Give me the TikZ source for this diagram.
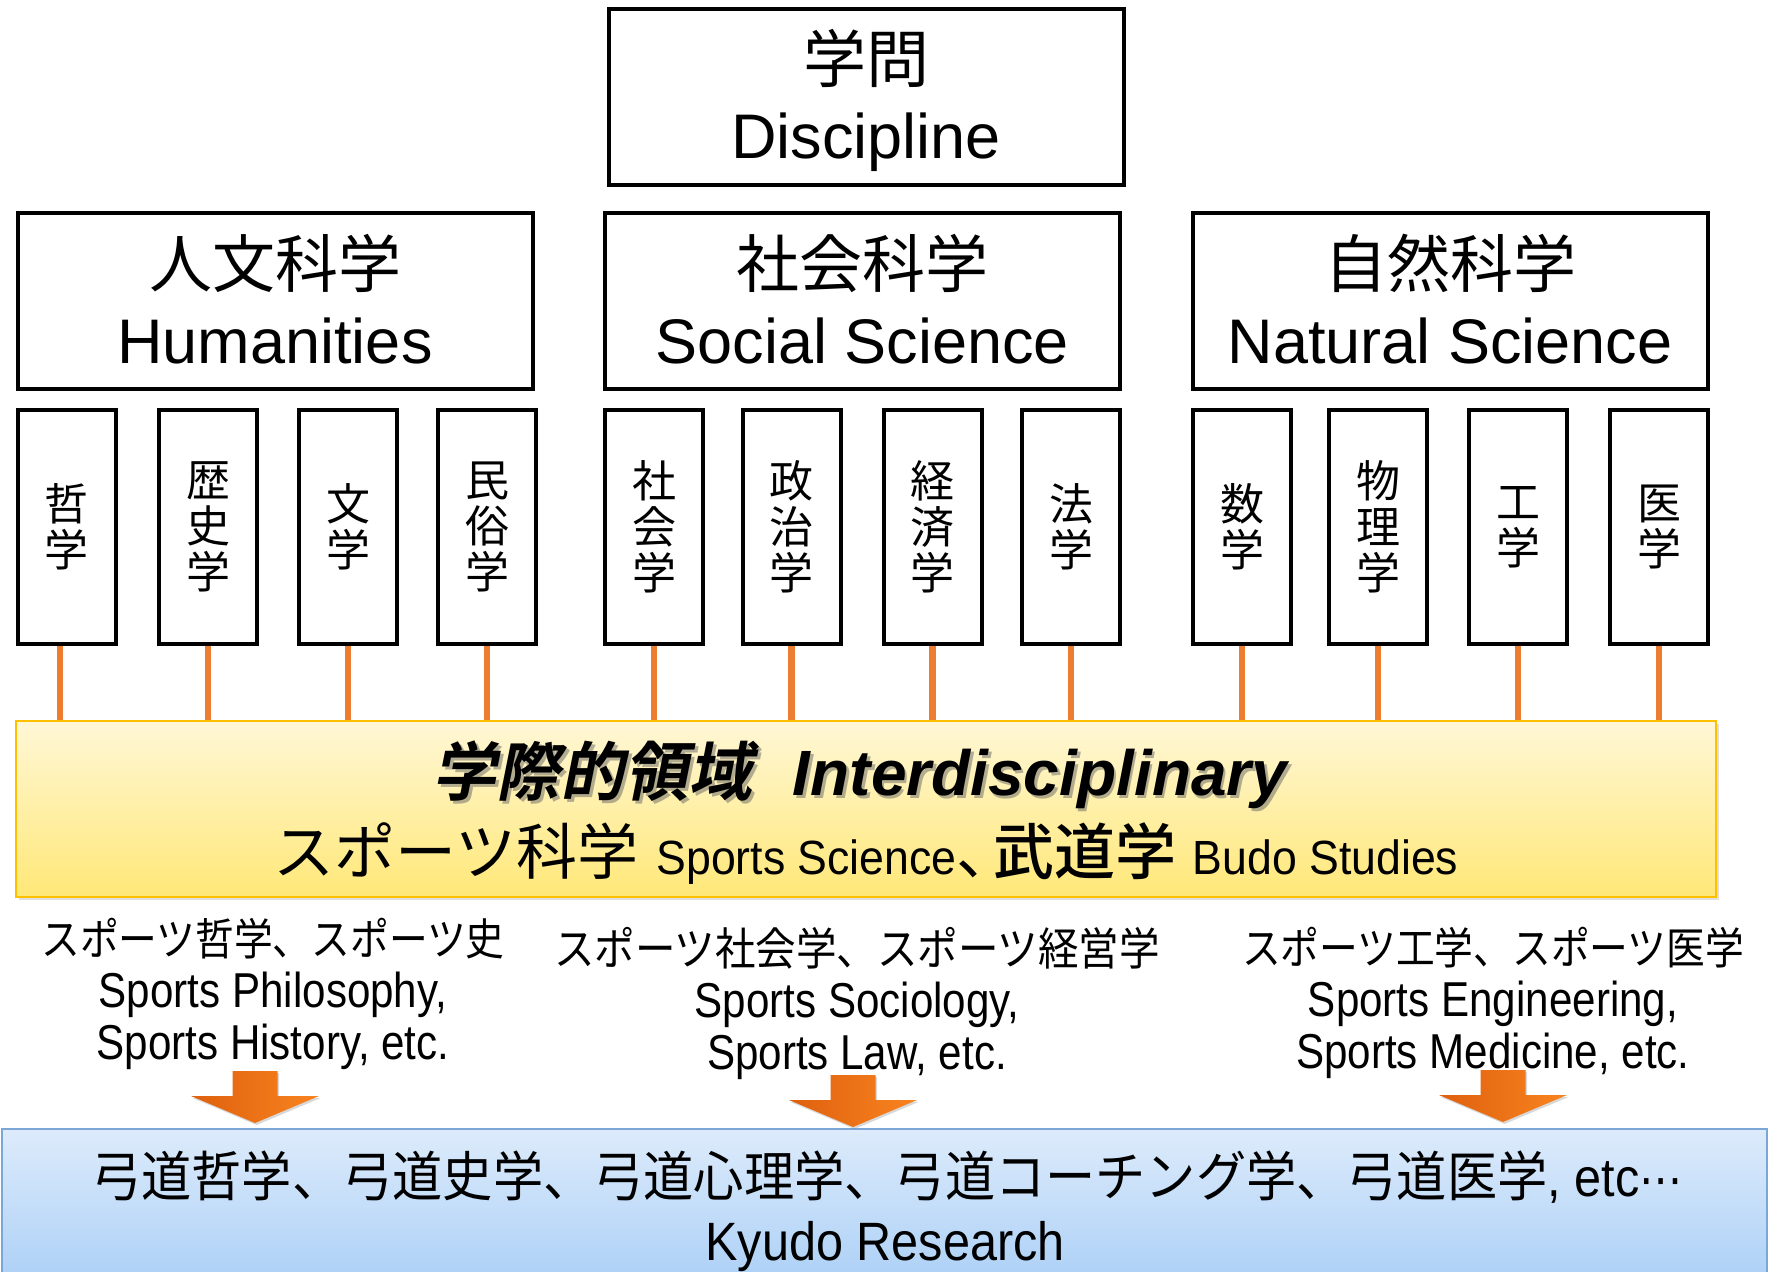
\documentclass[tikz,border=0pt]{standalone}
\usepackage{fontspec}
\setmainfont{Liberation Sans}
\newfontfamily\jp{Noto Sans CJK JP}
\newfontfamily\jpm{Noto Sans CJK JP Medium}
\newfontfamily\jpn[FakeStretch=0.88]{Noto Sans CJK JP}
\newfontfamily\jpnw[FakeStretch=0.9]{Noto Sans CJK JP}
\newfontfamily\jpbl[FakeStretch=0.93]{Noto Sans CJK JP}
\newfontfamily\jpbi[FakeSlant=0.2]{Noto Sans CJK JP Bold}
\newfontfamily\latn[FakeStretch=0.86]{Liberation Sans}
\newfontfamily\latbl[FakeStretch=0.9]{Liberation Sans}
\newfontfamily\latyl[FakeStretch=0.93]{Liberation Sans}
\newfontfamily\djv[FakeStretch=0.9]{DejaVu Sans}
\usetikzlibrary{shadows}
\definecolor{lineor}{HTML}{ED7D31}
\definecolor{yelT}{HTML}{FFF7D6}
\definecolor{yelB}{HTML}{FFE878}
\definecolor{yelD}{HTML}{FFC000}
\definecolor{bluT}{HTML}{DDEBFB}
\definecolor{bluB}{HTML}{A6CDF6}
\definecolor{bluD}{HTML}{7AA6D8}
\definecolor{arrL}{HTML}{DF600E}
\definecolor{arrR}{HTML}{F8841F}
\begin{document}
\begin{tikzpicture}[x=0.5pt,y=-0.5pt,
  hdr/.style={draw=black, line width=2pt, rectangle, minimum width=257.5pt, minimum height=88pt, inner sep=0pt},
  hdrtext/.style={align=center, inner sep=0pt, font=\fontsize{31.5}{38}\selectfont},
  subbox/.style={draw=black, line width=2pt, rectangle, minimum width=49pt, minimum height=117pt,
    align=center, inner sep=0pt, font=\jp\fontsize{22}{23}\selectfont},
  conn/.style={draw=lineor, line width=3.1pt},
  yelbox/.style={draw=yelD, line width=1pt, top color=yelT, bottom color=yelB, minimum width=850pt, minimum height=88pt,
    drop shadow={opacity=0.25, shadow xshift=1.5pt, shadow yshift=-1.5pt}},
  blubox/.style={draw=bluD, line width=0.8pt, top color=bluT, bottom color=bluB, minimum width=882.5pt, minimum height=85.5pt},
  coltext/.style={align=center, inner sep=0pt, font=\latn\fontsize{24.5}{26}\selectfont},
  pics/barrow/.style={code={
    \path[left color=arrL, right color=arrR, drop shadow={opacity=0.3, shadow xshift=0.8pt, shadow yshift=-1pt}]
      (-22.5,0) -- (22.5,0) -- (22.5,25) -- (64,25) -- (0,52) -- (-64,25) -- (-22.5,25) -- cycle;
  }}
]
\fill[white] (0,0) rectangle (1769,1271);
\useasboundingbox (0,0) rectangle (1769,1271);

% top level
\node[hdr] (disc) at (866,96.5) {};
\node[hdrtext] (disct) at (866,100.5) {{\jp 学問}\\Discipline};
\node[hdr] (hum) at (275,301) {};
\node[hdrtext] (humt) at (275,299) {{\jp 人文科学}\\Humanities};
\node[hdr] (soc) at (862.5,301) {};
\node[hdrtext] (soct) at (862.5,299) {{\jp 社会科学}\\Social Science};
\node[hdr] (nat) at (1450,301) {};
\node[hdrtext] (natt) at (1450,299) {{\jp 自然科学}\\Natural Science};

% sub boxes
\node[subbox] (h1) at (67,527) {哲\\学};
\node[subbox] (h2) at (208,527) {歴\\史\\学};
\node[subbox] (h3) at (348,527) {文\\学};
\node[subbox] (h4) at (487,527) {民\\俗\\学};
\node[subbox] (s1) at (654,527) {社\\会\\学};
\node[subbox] (s2) at (791.5,527) {政\\治\\学};
\node[subbox] (s3) at (932.5,527) {経\\済\\学};
\node[subbox] (s4) at (1071,527) {法\\学};
\node[subbox] (n1) at (1242,527) {数\\学};
\node[subbox] (n2) at (1378,527) {物\\理\\学};
\node[subbox] (n3) at (1518,527) {工\\学};
\node[subbox] (n4) at (1659,527) {医\\学};

% interdisciplinary box
\node[yelbox] (yel) at (866,809) {};

\draw[conn] ([xshift=-3.5pt]h1.south) -- ([xshift=-3.5pt]h1.south |- yel.north);
\foreach \b in {h2,h3,h4,s1,s2,s3,s4,n1,n2,n3,n4}{
  \draw[conn] (\b.south) -- (\b.south |- yel.north);
}

\node[inner sep=0pt, text=black!60, opacity=0.5] (yt1s) at (862.5,777.5)
  {{\jpbi\fontsize{32}{32}\selectfont 学際的領域}\hspace{20pt}{\fontsize{32}{32}\selectfont\bfseries\itshape Interdisciplinary}};
\node[inner sep=0pt] (yt1) at (860,775)
  {{\jpbi\fontsize{32}{32}\selectfont 学際的領域}\hspace{20pt}{\fontsize{32}{32}\selectfont\bfseries\itshape Interdisciplinary}};
\node[inner sep=0pt] (yt2) at (866,854)
  {{\jp\fontsize{30.5}{30}\selectfont スポーツ科学}\hspace{9pt}{\latyl\fontsize{24}{24}\selectfont Sports Science}{\jp\fontsize{30.5}{30}\selectfont 、}\hspace{-12pt}{\jpm\fontsize{30.5}{30}\selectfont 武道学}\hspace{8pt}{\latyl\fontsize{24}{24}\selectfont Budo Studies}};

% columns
\node[coltext] (c1) at (273,994) {{\jpn\fontsize{22}{26}\selectfont スポーツ哲学、スポーツ史}\\Sports Philosophy,\\Sports History, etc.};
\node[coltext] (c2) at (857,1003) {{\jpnw\fontsize{22.5}{26}\selectfont スポーツ社会学、スポーツ経営学}\\Sports Sociology,\\Sports Law, etc.};
\node[coltext] (c3) at (1493,1003) {{\jpn\fontsize{22}{26}\selectfont スポーツ工学、スポーツ医学}\\Sports Engineering,\\Sports Medicine, etc.};

% kyudo box
\node[blubox] (blu) at (884.5,1214.5) {};
\node[inner sep=0pt] (b1) at (887,1177)
  {{\jpbl\fontsize{27}{27}\selectfont 弓道哲学、弓道史学、弓道心理学、弓道コーチング学、弓道医学}{\latbl\fontsize{27}{27}\selectfont , etc}{\djv\fontsize{24}{24}\selectfont ⋯}};
\node[inner sep=0pt] (b2) at (885,1247) {{\latbl\fontsize{27}{27}\selectfont Kyudo Research}};

% block arrows
\pic at (255,1071) {barrow};
\pic at (853,1075) {barrow};
\pic at (1503,1070) {barrow};
\end{tikzpicture}
\end{document}
